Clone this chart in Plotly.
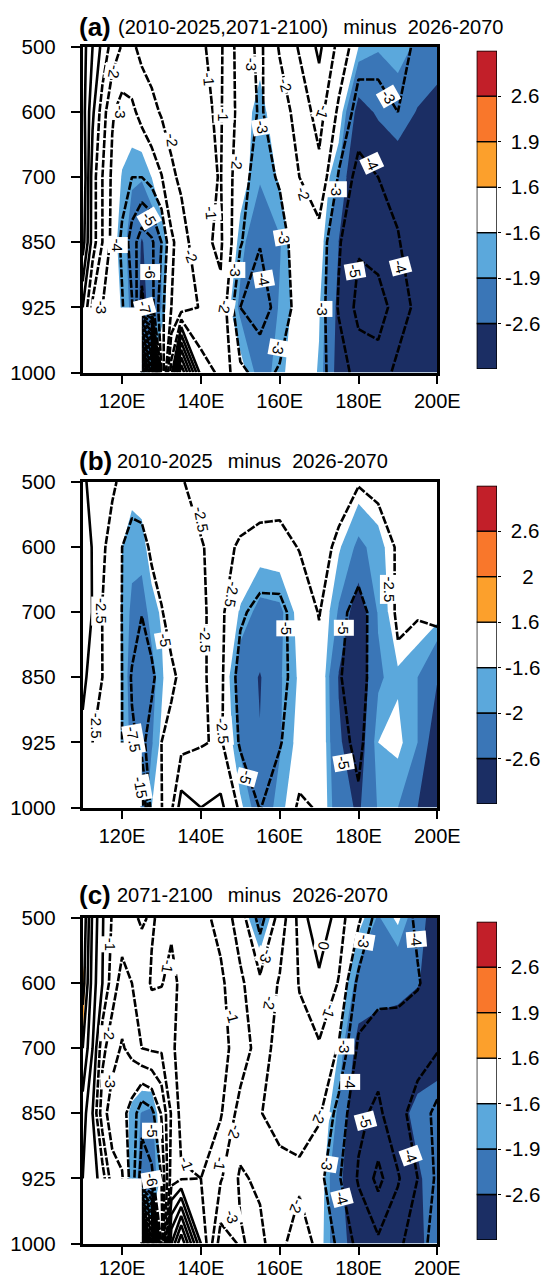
import plotly.graph_objects as go

N = float("nan")

LON = [110, 112.5, 115, 117.5, 120, 122.5, 125, 127.5, 130, 132.5, 135, 140,
       145, 150, 155, 160, 165, 170, 175, 180, 185, 190, 195, 200]
LEVELS = ["500", "600", "700", "850", "925", "1000"]
LON_TICKS = [120, 140, 160, 180, 200]
LON_TEXT = ["120E", "140E", "160E", "180E", "200E"]

# ---- panel (a): line field (difference) and shaded field (significance)
A_DIFF = [
    [2.5, 1.0, -0.3, -1.4, -2.1, -2.2, -1.7, -1.5, -1.4, -1.3, -1.3, -1.05, -0.85, -2.5, -3.2, -1.9, -0.9, 0.2, -1.3, -2.6, -2.7, -2.6, -3.2, -3.5],
    [2.5, 0.2, -1.5, -2.9, -3.4, -3.2, -2.7, -2.3, -1.9, -1.6, -1.4, -1.15, -0.9, -2.4, -3.1, -2.5, -1.6, -0.6, -2.2, -3.4, -3.3, -3.0, -3.3, -3.6],
    [3, -0.5, -2, -3.2, -3.6, -4, -4, -3.6, -3.05, -2.2, -1.8, -1.3, -0.95, -2.7, -3.35, -2.9, -2, -1.3, -3.1, -4.4, -4, -3.8, -3.8, -3.9],
    [2.5, -0.5, -2, -3.3, -4.2, -5.5, -6.6, -6.2, -5, -3.2, -2.5, -1.2, -0.85, -2.9, -3.95, -3.4, -2.5, -2.4, -3.9, -4.9, -4.6, -4.05, -3.6, -3.5],
    [0, -2.2, -3, -3.5, -3.9, -4.9, -7.2, -6.4, -4.3, -3, -2.6, -1.9, -1.2, -4, -4.5, -3.6, -2.6, -2.5, -4.1, -5.3, -5.4, -4.6, -3.7, -3.3],
    [N, N, N, N, N, N, -30, -22, -5, -0.5, 6, -0.5, -1.2, -2.8, -3.3, -2.9, -2.2, -2.7, -3.5, -4.4, -4.6, -3.7, -3.4, -3.2],
]
A_T = [
    [1.0, 0.6, 0.2, -0.3, -0.6, -0.7, -0.6, -0.5, -0.5, -0.4, -0.4, -0.3, -0.4, -1.0, -1.4, -0.9, -0.3, 0.1, -0.6, -1.6, -1.85, -1.7, -2.0, -2.2],
    [0.9, 0.2, -0.5, -0.9, -1.2, -1.3, -1.2, -1.0, -0.8, -0.6, -0.5, -0.4, -0.5, -1.3, -1.8, -1.2, -0.7, -0.3, -1.3, -2.9, -2.5, -2.2, -2.65, -2.9],
    [0.8, -0.1, -0.7, -1.1, -1.65, -1.85, -1.85, -1.6, -1.2, -0.8, -0.7, -0.5, -0.5, -1.4, -1.85, -1.55, -1.0, -1.2, -1.95, -3.6, -3.3, -3.1, -3.2, -3.3],
    [0.7, -0.2, -0.8, -1.45, -1.75, -2.1, -2.65, -2.3, -1.9, -1.3, -0.9, -0.6, -0.8, -1.75, -2.3, -1.95, -1.2, -1.3, -2.6, -3.6, -3.8, -3.5, -3.2, -3.0],
    [0.3, -0.5, -0.9, -1.3, -1.65, -2.0, -2.8, -2.4, -1.9, -1.2, -0.9, -0.7, -1.2, -2.0, -2.45, -1.85, -1.4, -1.55, -2.8, -3.8, -3.9, -3.6, -3.2, -3.0],
    [N, N, N, N, N, N, -2.1, -1.5, -1.0, -0.6, -0.4, -0.5, -0.9, -1.4, -2.1, -1.75, -1.2, -1.65, -2.9, -3.8, -3.7, -3.3, -3.1, -3.0],
]
A_LABELS = [
    ("-2", 118.2, 0.37, 100), ("-3", 119.5, 0.99, 90), ("-3", 114.8, 4.0, 90), ("-4", 118.8, 3.04, 90),
    ("-5", 126.9, 2.63, 60), ("-6", 127.1, 3.45, 90), ("-7", 125.8, 4.0, 75), ("-2", 132.8, 1.43, 85),
    ("-2", 137.4, 3.21, 70), ("-1", 141.9, 0.49, 85), ("-1", 145.7, 1.04, 90), ("-1", 142.6, 2.54, 85),
    ("-2", 149.1, 1.78, 95), ("-3", 148.7, 3.42, 90), ("-2", 146.0, 3.99, 100), ("-3", 152.9, 0.27, 90),
    ("-3", 155.7, 1.23, 80), ("-4", 156.0, 3.57, 80), ("-3", 159.7, 4.62, 100), ("-3", 161.1, 2.91, 80),
    ("-2", 161.4, 0.58, 75), ("-2", 166.0, 2.25, 75), ("-1", 171.1, 1.0, 110), ("-3", 174.5, 2.19, 90),
    ("-3", 170.8, 4.02, 90), ("-3", 187.6, 0.76, 60), ("-4", 183.4, 1.79, 65), ("-5", 179.0, 3.44, 80),
    ("-4", 190.7, 3.37, 75),
]

# ---- panel (b)
B_DIFF = [
    [0.5, -0.8, -1.3, -2.2, -2.9, -4, -3.3, -2.9, -2.7, -2.7, -2.6, -2.0, -1.8, -1.5, -1.5, -1.5, -1.5, -1.4, -1.4, -2.4, -2, -1.7, -1.5, -1.7],
    [1, -0.1, -2.2, -3.2, -5, -5.8, -6, -4.5, -3.5, -3, -2.8, -2.6, -2, -2.7, -3.1, -3.2, -2.4, -1.6, -3, -3.8, -3.5, -2.3, -2, -2],
    [0.8, -0.05, -2.55, -3.6, -5.05, -6, -7.4, -6.3, -5.2, -3.8, -3.2, -2.7, -2, -4.6, -5.8, -5.7, -3.8, -2.4, -4.4, -5.8, -4, -2.2, -2.4, -2.3],
    [0.3, -0.5, -2.5, -3.2, -5, -7.8, -9, -8, -6.4, -5.6, -4.4, -2.7, -2, -6, -7.3, -6, -3.6, -3.2, -4.9, -5.6, -4.2, -2.9, -3.2, -3.2],
    [-0.3, -2.5, -3.2, -4, -5, -7.1, -8, -6.5, -5, -4, -3.4, -2.7, -2.2, -5.3, -6.4, -5.2, -3.2, -3, -4.6, -5.3, -4, -3.3, -3.3, -3.5],
    [N, N, N, N, N, N, -17, -6, -5.1, -3, 1.2, 0, 0.6, -3, -5.1, -3.5, -2.3, -2.6, -3.4, -4.8, -3.6, -3, -3, -3],
]
B_T = [
    [0.5, 0.1, -0.3, -0.7, -1, -1.45, -1.4, -1, -0.7, -0.5, -0.4, -0.4, -0.5, -0.7, -0.8, -0.8, -0.7, -0.6, -1, -1.4, -1.3, -1, -0.7, -0.8],
    [0.4, -0.1, -0.5, -1.2, -1.6, -1.8, -1.75, -1.4, -1, -0.7, -0.6, -0.5, -0.6, -1.2, -1.4, -1.35, -1.1, -0.8, -1.55, -2, -1.75, -1.3, -0.9, -0.9],
    [0.3, -0.2, -0.6, -1.2, -1.65, -1.98, -2.1, -1.75, -1.55, -1.2, -0.9, -0.7, -1.1, -1.65, -2.05, -2, -1.45, -1.2, -1.95, -3.1, -1.85, -1.35, -1.3, -1.4],
    [0.1, -0.3, -0.7, -1.3, -1.65, -2.1, -2.4, -2.05, -1.7, -1.2, -0.9, -0.7, -1.1, -2.2, -2.65, -1.95, -1.55, -1.1, -2.65, -3.2, -2, -1.65, -1.9, -2.55],
    [-0.1, -0.5, -0.8, -1.3, -1.65, -2, -2.3, -1.95, -1.5, -1.1, -0.9, -0.7, -1, -2, -2.57, -1.95, -1.45, -1.1, -2.5, -3.1, -1.6, -1.5, -1.9, -3.2],
    [N, N, N, N, N, N, -2.2, -1.6, -1.1, -0.8, -0.6, -0.6, -0.8, -1.5, -2.2, -1.75, -1.2, -1.1, -2.3, -2.7, -1.85, -1.9, -2.6, -3.2],
]
B_LABELS = [
    ("-2.5", 114.6, 1.98, 90), ("-2.5", 113.7, 3.75, 90), ("-5", 130.9, 2.42, 80), ("-7.5", 123.0, 3.95, 80),
    ("-15", 124.6, 4.70, 80), ("-2.5", 140.2, 0.57, 80), ("-2.5", 141.2, 2.42, 90), ("-2.5", 145.5, 3.82, 85),
    ("-2.5", 147.8, 1.72, 100), ("-5", 161.6, 2.24, 90), ("-5", 151.5, 4.53, 105), ("-5", 176.2, 2.24, 90),
    ("-5", 176.2, 4.31, 80), ("-2.5", 188.0, 1.65, 90),
]

# ---- panel (c)
C_DIFF = [
    [5, 1.8, 0.1, -1.1, -1.4, -1.15, -0.9, -1.1, -0.8, -0.8, -0.7, -0.7, -1.3, -2.5, -4.4, -2.6, -0.7, 1, -0.6, -1.8, -3.5, -3.7, -4.1, -4.5],
    [4.5, 1.5, 0, -1.5, -2.4, -2, -1.5, -0.9, -0.95, -1.3, -0.8, -0.6, -0.8, -1.8, -2.8, -1.9, -0.95, -0.3, -1.05, -3.3, -3.6, -3.7, -3.95, -4.3],
    [3, 1, -1.7, -2.6, -3.1, -2.7, -2, -1.85, -1.85, -1.05, -0.9, -0.7, -0.7, -1.4, -2.5, -1.6, -1.3, -1.1, -2.1, -4.2, -4.6, -4.5, -4.4, -4.1],
    [1.5, 0, -2.6, -3.5, -3.7, -4.4, -5.7, -5.3, -3.9, -1.9, -0.7, -0.6, -0.9, -2.4, -2.05, -1.6, -1.7, -1.85, -3.4, -4.8, -5.2, -4.3, -3.6, -2.7],
    [1, 0.5, -0.5, -2.6, -2.9, -4.5, -6.5, -6.2, -5, -1.5, -1.1, -1, -1.9, -3.15, -2.8, -2.4, -2.15, -2.7, -3.9, -5.1, -6.3, -5.1, -4, -2.8],
    [N, N, N, N, N, N, -30, -18, -6, 3, 6, 0, -3.5, -2.9, -3.3, -2.2, -1.6, -2.2, -3.2, -4.3, -4.8, -4.3, -3.2, -2.8],
]
C_T = [
    [1.35, 1.1, 0.6, -0.2, -0.5, -0.6, -0.5, -0.4, -0.3, -0.3, -0.3, -0.3, -0.5, -1.3, -2, -1.2, -0.3, 0.3, -1.1, -1.45, -1.95, -1.5, -2.3, -3],
    [1.71, 1.3, 0.5, -0.3, -0.7, -0.7, -0.6, -0.4, -0.3, -0.4, -0.3, -0.2, -0.3, -0.7, -1.2, -0.8, -0.4, -0.1, -1.2, -2.1, -2.3, -2.4, -2.55, -3],
    [1.58, 0.9, 0.2, -0.6, -0.9, -0.9, -1, -0.8, -0.7, -0.4, -0.3, -0.2, -0.3, -0.6, -0.9, -0.7, -0.5, -1.2, -1.6, -2.9, -3, -3, -3.3, -3.1],
    [0.8, 0.2, -0.5, -0.9, -1.3, -1.75, -1.92, -2, -1.3, -0.7, -0.3, -0.2, -0.4, -0.8, -0.8, -0.6, -0.6, -1.15, -2, -3.3, -3.6, -3, -2.3, -2.1],
    [0.4, 0.1, -0.3, -0.8, -1.3, -1.75, -2, -2.3, -1.5, -1, -0.4, -0.3, -0.7, -1.1, -0.9, -0.8, -0.8, -1.3, -2.4, -3.4, -3.7, -3.2, -2.75, -2.1],
    [N, N, N, N, N, N, -1.2, -1.1, -0.6, 0.2, 0.4, -0.2, -0.8, -0.9, -1, -0.8, -0.7, -1.4, -2.3, -3, -3.3, -3, -2.8, -2.2],
]
C_LABELS = [
    ("-1", 116.9, 0.41, 90), ("-1", 131.7, 0.74, 100), ("-2", 116.8, 1.77, 90), ("-3", 117.1, 2.51, 90),
    ("-5", 127.5, 3.27, 90), ("-6", 127.5, 4.02, 80), ("-1", 136.4, 3.77, 70), ("-1", 148.1, 1.51, 75),
    ("-2", 148.7, 3.28, 110), ("-1", 144.9, 3.77, 100), ("-3", 156.7, 0.59, 110), ("-2", 157.5, 1.31, 100),
    ("-3", 147.8, 4.59, 75), ("0", 171.1, 0.43, 100), ("-1", 172.8, 1.43, 110), ("-2", 170.2, 3.06, 110),
    ("-3", 181.4, 0.35, 100), ("-3", 176.3, 1.98, 90), ("-4", 178.0, 2.52, 90), ("-5", 181.9, 3.12, 75),
    ("-3", 172.2, 3.78, 100), ("-4", 175.7, 4.30, 75), ("-4", 194.6, 0.32, 85), ("-4", 193.2, 3.65, 70),
    ("-2", 164.3, 4.43, 110),
]

TITLES = ["(2010-2025,2071-2100)  minus  2026-2070", "2010-2025  minus  2026-2070", "2071-2100  minus  2026-2070"]
TAGS = ["(a)", "(b)", "(c)"]
BAR_TICKS = [["-2.6", "-1.9", "-1.6", "\u00a01.6", "\u00a01.9", "\u00a02.6"],
             ["-2.6", "-2", "-1.6", "\u00a01.6", "\u00a0\u00a0\u00a02", "\u00a02.6"],
             ["-2.6", "-1.9", "-1.6", "\u00a01.6", "\u00a01.9", "\u00a02.6"]]
BAR_COLORS = ["#1b2e64", "#3a76b7", "#5ba8dc", "#ffffff", "#fca02c", "#f9772b", "#c21f29"]
THRESHOLDS = [-1.6, -1.9, -2.6]          # bounds of the blues
POS_THRESHOLDS = [1.6, 1.9, 2.6]         # bounds of the warm colours
BLUES = ["#5ba8dc", "#3a76b7", "#1b2e64"]
WARMS = ["#fca02c", "#f9772b", "#c21f29"]
INTERVAL = [1, 2.5, 1]

W, H = 544, 1280
FONT = "Liberation Sans"
PANEL_TOP = [47, 482, 918]
PANEL_H = 325.5
X0, X1 = 82.7, 437.3
BAR_X0, BAR_X1 = 476.7, 497
TAG_Y = [27, 461, 895]
TITLE_Y = [27, 461, 895]
TITLE_X = [118, 117, 116.5]
X_STANDOFF = [0, 0, -4]
CLEAR = "rgba(255,255,255,0)"


def py(v):
    return 1 - v / H


def band(z, xa, ya, level, color):
    """Fill the part of z above `level` with `color`; the rest stays unpainted."""
    return go.Contour(x=LON, y=list(range(len(LEVELS))), z=z, xaxis=xa, yaxis=ya,
                      autocontour=False, contours=dict(coloring="fill", showlines=False,
                                                       start=level, end=level, size=1),
                      zauto=False, zmin=level - 1, zmax=level + 1,
                      colorscale=[[0, CLEAR], [0.5, CLEAR], [0.5, color], [1, color]],
                      line=dict(width=0, smoothing=0), showscale=False, hoverinfo="skip")


fig = go.Figure()
panels = [(A_DIFF, A_T, A_LABELS), (B_DIFF, B_T, B_LABELS), (C_DIFF, C_T, C_LABELS)]
levels_idx = list(range(len(LEVELS)))
annotations = []
shapes = []
layout = {}

for i, (diff, t, labels) in enumerate(panels):
    n = i * 2 + 1
    suffix = "" if n == 1 else str(n)
    xa, ya = "x" + suffix, "y" + suffix
    bx, by = f"x{n + 1}", f"y{n + 1}"
    top = PANEL_TOP[i]

    flat = [v for row in t for v in row if v == v]
    negated = [[-v for v in row] for row in t]
    for val, col in zip(THRESHOLDS, BLUES):
        if min(flat) < val:
            fig.add_trace(band(negated, xa, ya, -val, col))
    for val, col in zip(POS_THRESHOLDS, WARMS):
        if max(flat) > val:
            fig.add_trace(band(t, xa, ya, val, col))

    step = INTERVAL[i]
    fig.add_trace(go.Contour(x=LON, y=levels_idx, z=diff, xaxis=xa, yaxis=ya,
                             autocontour=False,
                             contours=dict(coloring="none", start=-40 * step if step > 1 else -40, end=-step, size=step),
                             line=dict(color="black", width=2.6, dash="8px,1.8px", smoothing=0),
                             showscale=False, hoverinfo="skip"))
    fig.add_trace(go.Contour(x=LON, y=levels_idx, z=diff, xaxis=xa, yaxis=ya,
                             autocontour=False,
                             contours=dict(coloring="none", start=0, end=20, size=step),
                             line=dict(color="black", width=2.6, smoothing=0),
                             showscale=False, hoverinfo="skip"))

    # terrain below 925 hPa west of 125E carries no data
    shapes.append(dict(type="rect", xref=xa, yref=ya, x0=110.35, x1=125, y0=4, y1=4.98,
                       fillcolor="white", line=dict(width=0), layer="above"))

    for text, lon, idx, ang in labels:
        annotations.append(dict(x=lon, y=idx, xref=xa, yref=ya, text=text, textangle=ang,
                                showarrow=False, bgcolor="white", borderpad=1,
                                font=dict(family=FONT, size=15, color="black")))

    layout["xaxis" + suffix] = dict(
        domain=[X0 / W, X1 / W], range=[110, 200], anchor=ya, tickmode="array", automargin=False,
        tickvals=LON_TICKS, ticktext=LON_TEXT, ticks="outside", ticklen=9, tickwidth=2.3,
        ticklabelstandoff=X_STANDOFF[i],
        tickcolor="black", showline=True, linewidth=2.7, linecolor="black", mirror=True,
        showgrid=False, zeroline=False, tickfont=dict(family=FONT, size=20, color="black"))
    layout["yaxis" + suffix] = dict(
        domain=[py(top + PANEL_H), py(top)], range=[5, 0], anchor=xa, tickmode="array", automargin=False,
        tickvals=levels_idx, ticktext=LEVELS, ticks="outside", ticklen=9, tickwidth=2.3,
        ticklabelstandoff=11,
        tickcolor="black", showline=True, linewidth=2.7, linecolor="black", mirror=True,
        showgrid=False, zeroline=False, tickfont=dict(family=FONT, size=20.5, color="black"))

    # colour bar drawn as stacked bars, one per colour band
    for k, col in enumerate(BAR_COLORS):
        fig.add_trace(go.Bar(x=[0], y=[1], base=[k], width=[1], xaxis=bx, yaxis=by,
                             marker=dict(color=col, line=dict(color="black", width=1.4)),
                             showlegend=False, hoverinfo="skip"))
    layout[f"xaxis{n + 1}"] = dict(domain=[BAR_X0 / W, BAR_X1 / W], range=[-0.5, 0.5], anchor=by, automargin=False,
                                   showticklabels=False, ticks="", showgrid=False, zeroline=False)
    layout[f"yaxis{n + 1}"] = dict(domain=[py(top + 322), py(top + 3.7)], range=[0, 7], anchor=bx, side="right",
                                   automargin=False,
                                   tickmode="array", tickvals=[1, 2, 3, 4, 5, 6], ticktext=BAR_TICKS[i],
                                   ticks="outside", ticklen=3, tickwidth=1.2, tickcolor="black",
                                   showgrid=False, zeroline=False, showline=False,
                                   tickfont=dict(family=FONT, size=20.5, color="black"))

    dom_x = f"{xa} domain"
    dom_y = f"{ya} domain"
    annotations.append(dict(x=(77 - X0) / (X1 - X0), y=1 + (top - TAG_Y[i]) / PANEL_H, xref=dom_x, yref=dom_y,
                            xanchor="left", yanchor="middle", text=f"<b>{TAGS[i]}</b>", showarrow=False,
                            font=dict(family=FONT, size=26, color="black")))
    title = TITLES[i].replace("  minus", "&nbsp;&nbsp;&#8201;minus").replace("  ", "&nbsp;&nbsp;")
    annotations.append(dict(x=(TITLE_X[i] - 2 - X0) / (X1 - X0), y=1 + (top - TITLE_Y[i]) / PANEL_H, xref=dom_x, yref=dom_y,
                            xanchor="left", yanchor="middle", text=title,
                            showarrow=False, font=dict(family=FONT, size=20, color="black")))

fig.update_layout(template="none", width=W, height=H, autosize=False, margin=dict(l=0, r=0, t=0, b=0, pad=0),
                  showlegend=False, paper_bgcolor="white", plot_bgcolor="white", barmode="overlay",
                  annotations=annotations, shapes=shapes, **layout)

fig.write_html("out.html", config={"displayModeBar": False, "responsive": False},
               post_script="document.body.style.margin='0';document.documentElement.style.overflow='hidden';")
